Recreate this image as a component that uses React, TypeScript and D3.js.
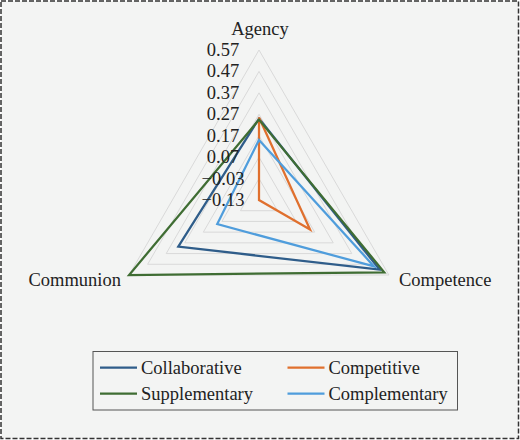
import { useRef, useEffect } from "react";
import * as d3 from "d3";

const categories = ["Agency", "Competence", "Communion"];
const seriesNames = ["Collaborative", "Competitive", "Supplementary", "Complementary"];
const collaborative = [0.25, 0.52, 0.305];
const competitive = [0.255, 0.145, -0.13];
const supplementary = [0.245, 0.545, 0.57];
const complementary = [0.15, 0.49, 0.095];
const tickValues = [-0.13, -0.03, 0.07, 0.17, 0.27, 0.37, 0.47, 0.57];
const tickLabels = ["\u22120.13", "\u22120.03", "0.07", "0.17", "0.27", "0.37", "0.47", "0.57"];

const colors = ["#2f5d8a", "#e0702e", "#3f6d33", "#4f9ddc"];

const svg_width = 520;
const svg_height = 440;
const cx = 259;
const cy = 200;
const radius = 150;
const font = "'Liberation Serif', 'Times New Roman', serif";

export default function App() {
    const ref = useRef<HTMLDivElement>(null);

    useEffect(() => {
        const destroy = () => {
            d3.select(ref.current).selectAll("*").remove();
        };

        const seriesValues = [collaborative, competitive, supplementary, complementary];

        const r = d3.scaleLinear()
            .domain([tickValues[0], tickValues[tickValues.length - 1]])
            .range([0, radius]);

        const angle = d3.scalePoint<string>()
            .domain(categories)
            .range([0, 2 * Math.PI * (categories.length - 1) / categories.length]);

        const svg = d3.select(ref.current)
            .append("svg")
                .attr("width", svg_width)
                .attr("height", svg_height)
                .style("display", "block")
                .style("background", "white");

        // background with dashed border
        svg.append("rect")
            .attr("x", 1)
            .attr("y", 1)
            .attr("width", 517.5)
            .attr("height", 437.5)
            .attr("fill", "#f3f4f3")
            .attr("stroke", "#333")
            .attr("stroke-width", 1.5)
            .attr("stroke-dasharray", "5,2");

        const g = svg.append("g")
            .attr("transform", `translate(${cx}, ${cy})`);

        const ring = d3.lineRadial<string>()
            .angle(c => angle(c) ?? 0)
            .curve(d3.curveLinearClosed);

        // grid triangles
        tickValues.slice(1).forEach(t => {
            g.append("path")
                .attr("d", ring.radius(() => r(t))(categories))
                .attr("fill", "none")
                .attr("stroke", "#d9d9d9")
                .attr("stroke-width", 1);
        });

        // series
        const line = d3.lineRadial<[string, number]>()
            .angle(d => angle(d[0]) ?? 0)
            .radius(d => r(d[1]))
            .curve(d3.curveLinearClosed);

        seriesValues.forEach((vals, i) => {
            g.append("path")
                .attr("d", line(categories.map((c, j) => [c, vals[j]])))
                .attr("fill", "none")
                .attr("stroke", colors[i])
                .attr("stroke-width", 2.25)
                .attr("stroke-linejoin", "miter");
        });

        // tick labels
        g.selectAll(".tick")
            .data(tickValues)
            .join("text")
                .attr("x", -36)
                .attr("y", d => -r(d))
                .attr("text-anchor", "middle")
                .attr("dominant-baseline", "central")
                .style("font-family", font)
                .style("font-size", "18.5px")
                .attr("fill", "#222")
                .text((d, i) => tickLabels[i]);

        // category labels
        const labelPos: Record<string, { x: number, y: number, anchor: string }> = {
            Agency: { x: 1, y: -165, anchor: "middle" },
            Competence: { x: 140, y: 86, anchor: "start" },
            Communion: { x: -138, y: 86, anchor: "end" },
        };
        categories.forEach(c => {
            g.append("text")
                .attr("x", labelPos[c].x)
                .attr("y", labelPos[c].y)
                .attr("text-anchor", labelPos[c].anchor)
                .style("font-family", font)
                .style("font-size", "18.5px")
                .attr("fill", "#222")
                .text(c);
        });

        // legend
        const legend = svg.append("g");
        legend.append("rect")
            .attr("x", 93)
            .attr("y", 351.5)
            .attr("width", 364.5)
            .attr("height", 58.5)
            .attr("fill", "none")
            .attr("stroke", "#555")
            .attr("stroke-width", 1);

        seriesNames.forEach((name, i) => {
            const col = i % 2;
            const row = Math.floor(i / 2);
            const x0 = col === 0 ? 100 : 287.5;
            const y0 = 367.5 + row * 26;
            legend.append("line")
                .attr("x1", x0)
                .attr("x2", x0 + 37)
                .attr("y1", y0)
                .attr("y2", y0)
                .attr("stroke", colors[i])
                .attr("stroke-width", 2.25);
            legend.append("text")
                .attr("x", x0 + 41)
                .attr("y", y0)
                .attr("dominant-baseline", "central")
                .style("font-family", font)
                .style("font-size", "18.5px")
                .attr("fill", "#222")
                .text(name);
        });

        return destroy;
    }, [ref]);

    return (
        <div ref={ref} style={{ position: "absolute", left: 0, top: 0 }} />
    );
}
